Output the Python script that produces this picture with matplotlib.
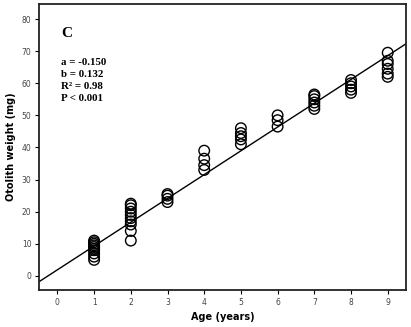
import numpy as np
import matplotlib
matplotlib.use("Agg")
from matplotlib import pyplot as plt

# otolith weight (mg) by age group
age1 = [5, 6, 7, 8, 8.5, 9, 9.5, 10, 10.5, 11]
age2 = [11, 14, 16, 17, 18, 19, 20, 21, 22, 22.5]
age3 = [23, 24, 25, 25.5]
age4 = [33, 34.5, 36.5, 39]
age5 = [41, 42.5, 43.5, 44.5, 46]
age6 = [46.5, 48.5, 50]
age7 = [52, 53, 54, 55, 56, 56.5]
age8 = [57, 58, 59, 60, 61]
age9 = [62, 63, 64.5, 66, 67, 69.5]
groups = [age1, age2, age3, age4, age5, age6, age7, age8, age9]

fit_x = [-0.5, 9.5]
fit_y = [-1.8, 72.3]

xticks = list(range(0, 10))
yticks = list(range(0, 90, 10))

fig = plt.figure(figsize=(4.11, 3.27), dpi=100)
ax = fig.add_axes([0.095, 0.113, 0.893, 0.875])

for i, g in enumerate(groups):
    ax.scatter([i + 1] * len(g), g, s=58, facecolors="none",
               edgecolors="black", linewidths=1.0, zorder=3)

ax.plot(fit_x, fit_y, color="black", lw=1.0, zorder=2)

ax.set_xlim(-0.5, 9.5)
ax.set_ylim(-4.4, 84.7)
ax.set_xticks(xticks)
ax.set_yticks(yticks)
ax.tick_params(labelsize=5.5, labelcolor="#444444", length=3, width=0.8, pad=2.5)
for s in ax.spines.values():
    s.set_linewidth(1.3)
    s.set_color("#222222")

ax.set_xlabel("Age (years)", fontsize=7, fontweight="bold", labelpad=4)
ax.set_ylabel("Otolith weight (mg)", fontsize=7, fontweight="bold", labelpad=4)

ax.text(0.06, 0.895, "C", transform=ax.transAxes, fontsize=11,
        fontweight="bold", family="Liberation Serif", va="center")
ax.text(0.06, 0.81, "a = -0.150\nb = 0.132\nR² = 0.98\nP < 0.001",
        transform=ax.transAxes, fontsize=7.8, fontweight="bold",
        family="Liberation Serif", va="top", linespacing=1.4)

fig.savefig("out.png", dpi=100)
